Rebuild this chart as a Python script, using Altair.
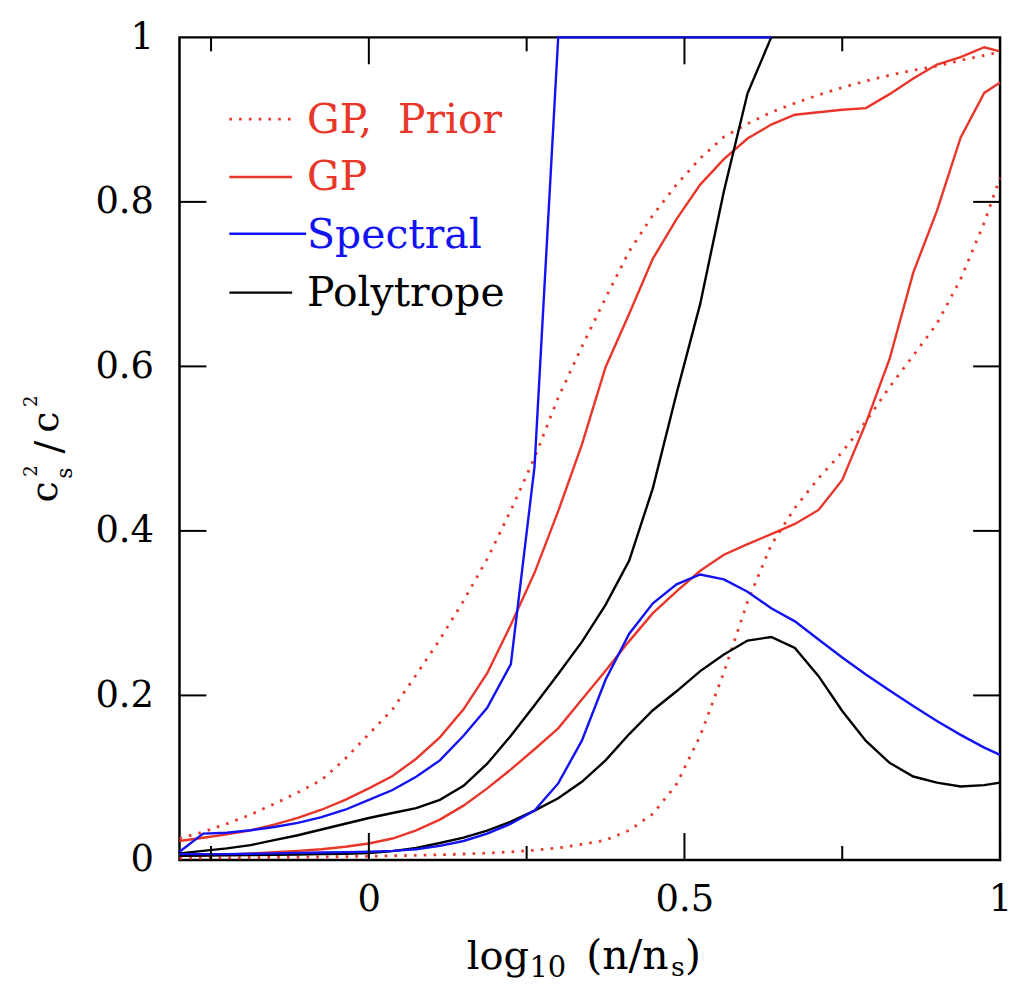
import altair as alt
import pandas as pd

# ---------------- data ----------------
x_vals = [-0.3, -0.2625, -0.225, -0.1875, -0.15, -0.1125, -0.075, -0.0375, 0.0,
          0.0375, 0.075, 0.1125, 0.15, 0.1875, 0.225, 0.2625, 0.3, 0.3375, 0.375,
          0.4125, 0.45, 0.4875, 0.525, 0.5625, 0.6, 0.6375, 0.675, 0.7125, 0.75,
          0.7875, 0.825, 0.8625, 0.9, 0.9375, 0.975, 1.0]

gp_prior_upper = [0.026, 0.034, 0.044, 0.055, 0.068, 0.082, 0.097, 0.123, 0.153,
                  0.183, 0.225, 0.268, 0.315, 0.366, 0.425, 0.489, 0.562, 0.624, 0.683,
                  0.740, 0.784, 0.821, 0.853, 0.879, 0.895, 0.909, 0.920, 0.930, 0.939,
                  0.947, 0.954, 0.960, 0.965, 0.972, 0.978, 0.982]
gp_prior_lower = [0.002, 0.0022, 0.0025, 0.0027, 0.003, 0.0033, 0.0036, 0.004, 0.0045,
                  0.005, 0.0056, 0.0063, 0.0072, 0.0083, 0.0098, 0.0118, 0.0145, 0.019, 0.024,
                  0.036, 0.056, 0.092, 0.151, 0.228, 0.314, 0.383, 0.428, 0.464, 0.496,
                  0.533, 0.575, 0.613, 0.652, 0.706, 0.775, 0.829]
gp_upper = [0.023, 0.027, 0.031, 0.036, 0.043, 0.051, 0.061, 0.073, 0.087,
            0.102, 0.123, 0.149, 0.183, 0.227, 0.286, 0.349, 0.424, 0.505, 0.599,
            0.664, 0.731, 0.779, 0.821, 0.852, 0.877, 0.894, 0.906, 0.909, 0.912,
            0.914, 0.931, 0.950, 0.967, 0.976, 0.988, 0.983]
gp_lower = [0.005, 0.0057, 0.0065, 0.0077, 0.0093, 0.011, 0.013, 0.016, 0.020,
            0.026, 0.036, 0.049, 0.066, 0.087, 0.110, 0.1345, 0.160, 0.195, 0.230,
            0.266, 0.300, 0.3265, 0.3515, 0.371, 0.384, 0.396, 0.4085, 0.4255, 0.462,
            0.531, 0.609, 0.714, 0.789, 0.878, 0.9325, 0.945]
spectral_upper = [0.010, 0.032, 0.033, 0.036, 0.040, 0.045, 0.052, 0.061, 0.073,
                  0.085, 0.101, 0.121, 0.151, 0.185, 0.238, 0.478, 1.0, 1.0, 1.0,
                  1.0, 1.0, 1.0, 1.0, 1.0, 1.0, 1.0]
spectral_lower = [0.007, 0.007, 0.007, 0.0075, 0.008, 0.0085, 0.009, 0.0095, 0.010,
                  0.011, 0.013, 0.017, 0.023, 0.032, 0.044, 0.060, 0.093, 0.145, 0.219,
                  0.275, 0.312, 0.335, 0.347, 0.341, 0.326, 0.306, 0.290, 0.268, 0.246,
                  0.2255, 0.206, 0.187, 0.169, 0.152, 0.1366, 0.1277]
poly_upper = [0.008, 0.011, 0.014, 0.018, 0.024, 0.030, 0.037, 0.044, 0.051,
              0.057, 0.063, 0.073, 0.090, 0.117, 0.151, 0.188, 0.226, 0.265, 0.310,
              0.364, 0.452, 0.567, 0.676, 0.813, 0.932, 1.0]
poly_lower = [0.005, 0.0053, 0.0056, 0.006, 0.0062, 0.0066, 0.007, 0.0075, 0.0083,
              0.0107, 0.0145, 0.0206, 0.027, 0.0356, 0.0465, 0.060, 0.075, 0.095, 0.121,
              0.153, 0.182, 0.205, 0.2295, 0.2497, 0.2667, 0.271, 0.2578, 0.2234, 0.181,
              0.1446, 0.118, 0.1014, 0.094, 0.0893, 0.0909, 0.094]

x_major_ticks = [0.0, 0.5, 1.0]
x_minor_ticks = [-0.25, 0.25, 0.75]
y_ticks = [0.2, 0.4, 0.6, 0.8]
x_label_values = [0.0, 0.5, 1.0]
y_label_values = [0.0, 0.2, 0.4, 0.6, 0.8, 1.0]

legend_labels = ["GP,\u00a0 Prior", "GP", "Spectral", "Polytrope"]

# axis titles, split into normal / sub- / superscript pieces
x_title_parts = ["log", "10", "(n/n", "s", ")"]
y_title_parts = ["c", "2", "s", "/", "c", "2"]

# ---------------- styling ----------------
W, H = 823, 825
RED = "#e8372a"
BLUE = "#1212f2"
BLACK = "#000000"
FONT = "DejaVu Serif"

xscale = alt.Scale(domain=[-0.3, 1.0], nice=False, zero=False)
yscale = alt.Scale(domain=[0.0, 1.0], nice=False, zero=False)

xaxis = alt.Axis(values=x_label_values, format="~g", ticks=False, domain=False, grid=False,
                 labelFont=FONT, labelFontSize=37, labelColor="black", labelPadding=22,
                 labelFlush=False, labelOverlap=False)
yaxis = alt.Axis(values=y_label_values, format="~g", ticks=False, domain=False, grid=False,
                 labelFont=FONT, labelFontSize=37, labelColor="black", labelPadding=26,
                 labelOverlap=False)


def X(field="x"):
    return alt.X(f"{field}:Q", scale=xscale, axis=xaxis, title=None)


def Y(field="y"):
    return alt.Y(f"{field}:Q", scale=yscale, axis=yaxis, title=None)


def curve_df(name, ys):
    n = len(ys)
    return pd.DataFrame({"x": x_vals[:n], "y": ys, "curve": name, "i": list(range(n))})


def line_layer(dfs, color, dash=None, width=2.4):
    df = pd.concat(dfs, ignore_index=True)
    kw = dict(color=color, strokeWidth=width, clip=False)
    if dash:
        kw["strokeDash"] = dash
    return alt.Chart(df).mark_line(**kw).encode(
        x=X(), y=Y(), detail="curve:N", order="i:Q")


layers = [
    line_layer([curve_df("prior_u", gp_prior_upper), curve_df("prior_l", gp_prior_lower)],
               RED, dash=[2.6, 7.2], width=2.8),
    line_layer([curve_df("gp_u", gp_upper), curve_df("gp_l", gp_lower)], RED),
    line_layer([curve_df("poly_u", poly_upper), curve_df("poly_l", poly_lower)], BLACK),
    line_layer([curve_df("spec_u", spectral_upper), curve_df("spec_l", spectral_lower)], BLUE),
]


# inward ticks on all four sides
def xtick_layers(vals, length):
    d = pd.DataFrame({"x": vals})
    base = alt.Chart(d).mark_rule(color="black", strokeWidth=2)
    return [
        base.encode(x=X(), y=alt.value(H), y2=alt.value(H - length)),
        base.encode(x=X(), y=alt.value(0), y2=alt.value(length)),
    ]


def ytick_layers(vals, length):
    d = pd.DataFrame({"y": vals})
    base = alt.Chart(d).mark_rule(color="black", strokeWidth=2)
    return [
        base.encode(y=Y(), x=alt.value(0), x2=alt.value(length)),
        base.encode(y=Y(), x=alt.value(W), x2=alt.value(W - length)),
    ]


layers += xtick_layers(x_major_ticks, 27)
layers += xtick_layers(x_minor_ticks, 14)
layers += ytick_layers(y_ticks, 27)


def text_piece(txt, px, py, size, color="black", align="left", angle=0):
    d = pd.DataFrame({"t": [txt]})
    kw = dict(align=align, baseline="alphabetic", font=FONT, fontSize=size, color=color)
    if angle:
        kw["angle"] = angle
    return alt.Chart(d).mark_text(**kw).encode(x=alt.value(px), y=alt.value(py), text="t:N")


# hand-made legend (coloured labels)
legend_colors = [RED, RED, BLUE, BLACK]
legend_dash = [[2.6, 7.2], None, None, None]
legend_line_y = [82, 140, 197, 256]
legend_text_y = [96, 153, 211, 269]
legend_line_x2 = [113, 113, 127, 113]
for lab, col, dash, ly, ty, lx2 in zip(legend_labels, legend_colors, legend_dash,
                                       legend_line_y, legend_text_y, legend_line_x2):
    d = pd.DataFrame({"t": [lab]})
    rkw = dict(color=col, strokeWidth=2.8 if dash else 2.4)
    if dash:
        rkw["strokeDash"] = dash
    layers.append(alt.Chart(d).mark_rule(**rkw).encode(
        x=alt.value(50), x2=alt.value(lx2), y=alt.value(ly)))
    layers.append(text_piece(lab, 128, ty, 41, color=col))

# x-axis title: log_10 (n/n_s)
x_title_pos = [(288, 934, 40), (351, 942, 29), (408, 934, 41), (493, 941, 27), (507, 934, 41)]
for part, (px, py, sz) in zip(x_title_parts, x_title_pos):
    layers.append(text_piece(part, px, py, sz))

# y-axis title: c_s^2 / c^2 (rotated, stacked sub/superscripts)
y_title_pos = [(-123, 456, 38), (-143, 435, 18), (-108, 437, 22),
               (-119, 411, 38), (-122, 386, 38), (-143, 365, 18)]
for part, (px, py, sz) in zip(y_title_parts, y_title_pos):
    layers.append(text_piece(part, px, py, sz, align="center", angle=270))

chart = alt.layer(*layers).properties(
    width=W, height=H,
    padding={"left": 172, "top": 28, "right": 12, "bottom": 125},
    autosize=alt.AutoSizeParams(type="none"),
    background="white",
).configure_view(stroke="black", strokeWidth=2.5)

chart.save("out.html", embed_options={"renderer": "svg", "actions": False})
